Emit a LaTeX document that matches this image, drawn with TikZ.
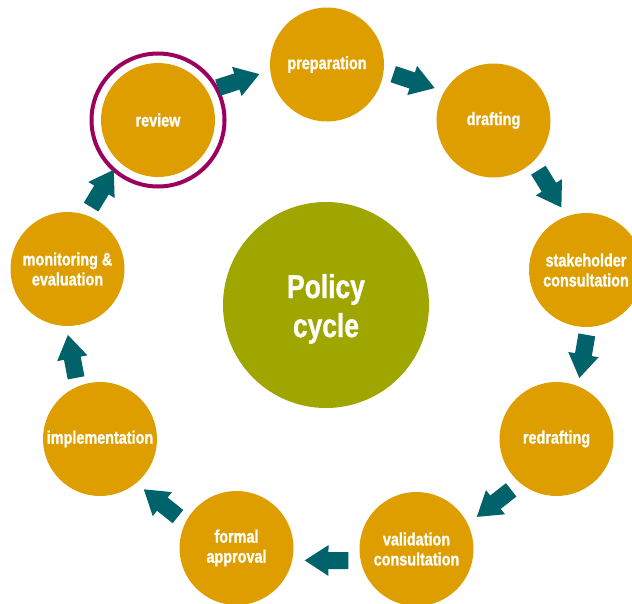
\documentclass[tikz,border=0pt]{standalone}
\usepackage{fontspec}
\usetikzlibrary{calc,arrows.meta}
\newfontfamily\cyclefont[FakeStretch=0.8,FakeBold=1]{Liberation Sans}
\definecolor{stagegold}{HTML}{DE9E00}
\definecolor{coreolive}{HTML}{9FA600}
\definecolor{flowteal}{HTML}{00626A}
\definecolor{ringplum}{HTML}{9C005E}
\tikzset{
  stage/.style={circle, fill=stagegold, minimum size=114pt, inner sep=0pt,
    text=white, align=center, font=\cyclefont\bfseries\fontsize{18}{20}\selectfont},
  core/.style={circle, fill=coreolive, minimum size=206pt, inner sep=0pt},
  coretext/.style={text=white, align=center, yshift=-4pt,
    font=\cyclefont\bfseries\fontsize{33}{39}\selectfont},
  flow/.style={draw=flowteal, line width=17pt,
    -{Triangle[width=29pt,length=24pt]}}
}
% arrow between two stages, pushed out of the ring a little
\newcommand{\Flow}[2]{%
  \coordinate (f1) at ($(#1)!12pt!90:(#2)$);
  \coordinate (f2) at ($(#2)!12pt!-90:(#1)$);
  \coordinate (fm) at ($(f1)!0.5!(f2)$);
  \draw[flow] ($(fm)!22pt!(f1)$) -- ($(fm)!22pt!(f2)$);}
\begin{document}
\begin{tikzpicture}[x=1pt, y=-1pt]
\clip (0,0) rectangle (632,603);
\node[core, label={[coretext]center:{Policy\\cycle}}] (policy) at (326,305) {};
\node[stage] (preparation) at (327,64.5) {preparation};
\node[stage] (drafting) at (493.5,120.5) {drafting};
\node[stage] (stakeholder) at (586,270) {stakeholder\\consultation};
\node[stage] (redrafting) at (556.5,439) {redrafting};
\node[stage] (validation) at (416.5,549) {validation\\consultation};
\node[stage] (approval) at (236.5,548) {formal\\approval};
\node[stage] (implementation) at (100,439) {implementation};
\node[stage] (monitoring) at (67.5,269) {monitoring \&\\evaluation};
\node[stage] (review) at (158,120) {review};
\node[circle, draw=ringplum, line width=4pt, minimum size=133pt] (reviewring) at (review) {};
\Flow{review}{preparation}
\Flow{preparation}{drafting}
\Flow{drafting}{stakeholder}
\Flow{stakeholder}{redrafting}
\Flow{redrafting}{validation}
\Flow{validation}{approval}
\Flow{approval}{implementation}
\Flow{implementation}{monitoring}
\Flow{monitoring}{review}
\end{tikzpicture}
\end{document}
